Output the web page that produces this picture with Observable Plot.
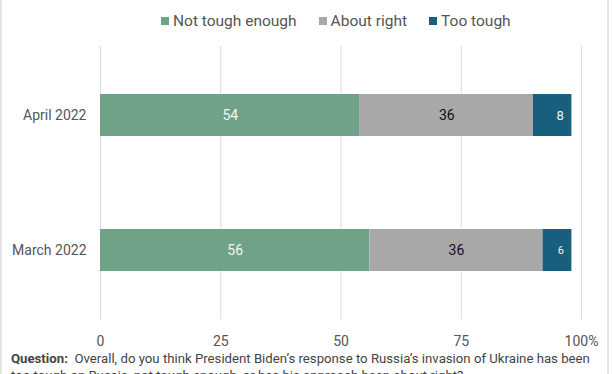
<!DOCTYPE html>
<html>
<head>
<meta charset="utf-8">
<script src="https://cdn.jsdelivr.net/npm/d3@7"></script>
<script src="https://cdn.jsdelivr.net/npm/@observablehq/plot@0.6"></script>
<style>
  html, body { margin: 0; padding: 0; background: #fff; }
  #wrap { width: 612px; height: 374px; overflow: hidden; position: relative; font-family: Roboto, sans-serif; }
  #wrap::before, #wrap::after { content: ""; position: absolute; top: 0; bottom: 0; width: 2px; background: #e4e4e4; z-index: 2; }
  #wrap::before { left: 0; }
  #wrap::after { right: 3px; }
  #legend { height: 40px; display: flex; align-items: center; padding-left: 161px; font-size: 15.5px; color: #555; box-sizing: border-box; padding-top: 2px; }
  .item { display: flex; align-items: center; margin-right: 22px; }
  .sw { width: 8px; height: 8px; margin-right: 4px; }
  #chart svg { display: block; }
  #note { font-size: 13.2px; line-height: 17px; color: #444; padding-left: 11px; white-space: nowrap; }
</style>
</head>
<body>
<div id="wrap">
  <div id="legend"></div>
  <div id="chart"></div>
  <div id="note"><b>Question:</b>&nbsp; Overall, do you think President Biden’s response to Russia’s invasion of Ukraine has been<br>too tough on Russia, not tough enough, or has his approach been about right?</div>
</div>
<script>
const periods = ["April 2022", "March 2022"];
const responses = ["Not tough enough", "About right", "Too tough"];
const notToughEnough = [54, 56];
const aboutRight = [36, 36];
const tooTough = [8, 6];
const colors = ["#6fa287", "#a8a8a8", "#185e7d"];
const xTicks = [0, 25, 50, 75, 100];

const series = [notToughEnough, aboutRight, tooTough];
const rows = [];
periods.forEach((p, i) => {
  responses.forEach((r, j) => {
    rows.push({period: p, response: r, value: series[j][i]});
  });
});

// Legend
const legend = document.getElementById("legend");
responses.forEach((r, j) => {
  const it = document.createElement("div");
  it.className = "item";
  it.innerHTML = `<span class="sw" style="background:${colors[j]}"></span><span>${r}</span>`;
  legend.appendChild(it);
});

const stackOpts = {y: "period", x: "value", z: "response", order: responses};

const chart = Plot.plot({
  width: 612,
  height: 310,
  marginLeft: 100,
  marginRight: 31,
  marginTop: 6,
  marginBottom: 31,
  style: {fontFamily: "Roboto, sans-serif", background: "transparent"},
  x: {domain: [0, 100], ticks: xTicks, label: null},
  y: {domain: periods, paddingInner: 0.69, paddingOuter: 0.35, label: null},
  color: {domain: responses, range: colors},
  marks: [
    Plot.gridX(xTicks, {stroke: "#dcdcdc", strokeOpacity: 1, strokeWidth: 1}),
    Plot.barX(rows, Plot.stackX({...stackOpts, fill: "response"})),
    Plot.text(rows, Plot.stackX({
      ...stackOpts,
      text: d => d.response === "Too tough" ? "" : String(d.value),
      fill: d => d.response === "Not tough enough" ? "#f4f4f4" : "#111",
      fontSize: 14
    })),
    Plot.text(rows, Plot.stackX2({
      ...stackOpts,
      text: d => d.response === "Too tough" ? String(d.value) : "",
      fill: "#f4f4f4",
      textAnchor: "end",
      dx: -8,
      fontSize: d => d.value < 7 ? 11 : 13
    })),
    Plot.axisX({ticks: xTicks, tickSize: 0, tickPadding: 17, fontSize: 14, color: "#555",
      tickFormat: d => d === 100 ? "100%" : String(d)}),
    Plot.axisY({tickSize: 0, tickPadding: 14, fontSize: 14, color: "#555"})
  ]
});
document.getElementById("chart").appendChild(chart);
</script>
</body>
</html>
